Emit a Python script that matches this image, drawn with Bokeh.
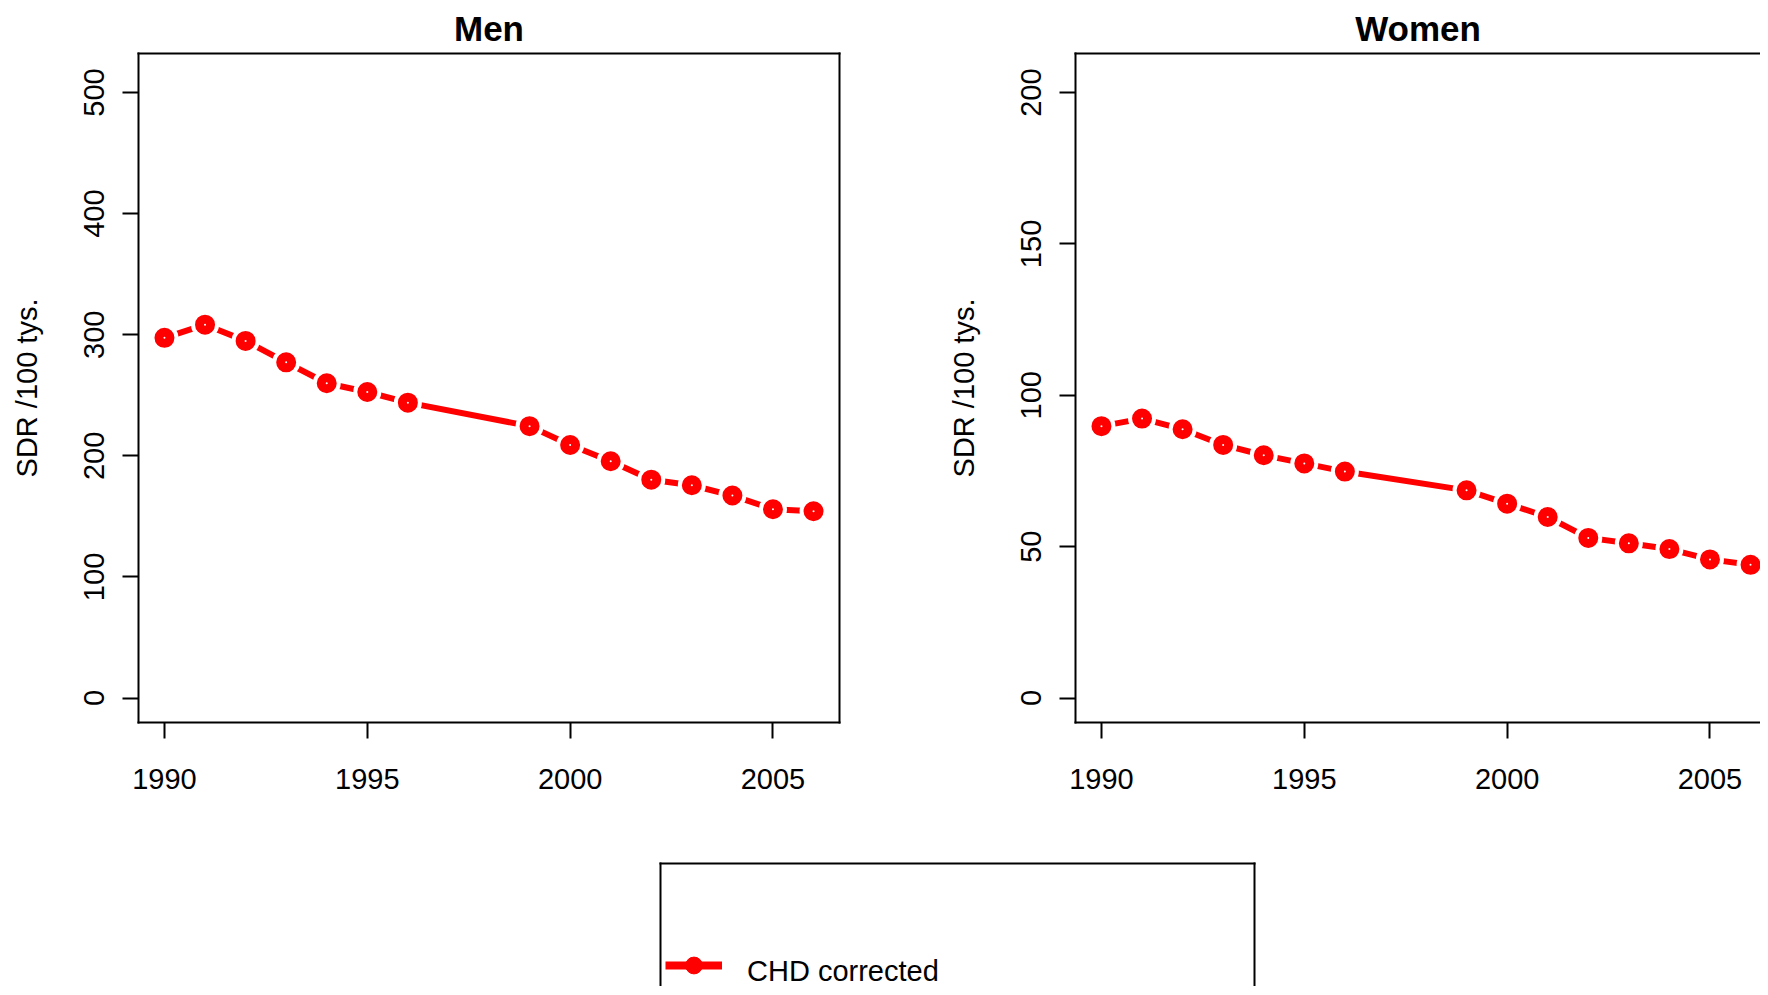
import numpy as np
from bokeh.plotting import figure
from bokeh.models import LinearAxis, FixedTicker, Range1d, Legend, LegendItem, ColumnDataSource
from bokeh.layouts import column, row
from bokeh.embed import file_html
from bokeh.resources import INLINE

# ---------------- data ----------------
years = [1990, 1991, 1992, 1993, 1994, 1995, 1996, 1999, 2000, 2001, 2002, 2003, 2004, 2005, 2006]
men = [297.4, 308.3, 294.9, 277.2, 259.9, 252.7, 243.9, 224.5, 208.9, 195.5, 180.3, 175.7, 167.2, 155.9, 154.2]
women = [89.8, 92.3, 88.8, 83.6, 80.2, 77.5, 74.8, 68.6, 64.2, 59.8, 52.9, 51.1, 49.2, 45.8, 44.0]
x_ticks = [1990, 1995, 2000, 2005]
men_ticks = [0, 100, 200, 300, 400, 500]
women_ticks = [0, 50, 100, 150, 200]
series_label = "CHD corrected"
y_title = "SDR /100 tys."
panel_titles = ["Men", "Women"]

FONT = "Liberation Sans"
RED = "#ff0000"


def line_axis():
    return LinearAxis(ticker=FixedTicker(ticks=[]), major_tick_line_color=None,
                      minor_tick_line_color=None, major_label_text_font_size="0px",
                      major_label_standoff=0, major_tick_out=0, major_tick_in=0,
                      axis_line_width=2, axis_line_cap="square", axis_line_color="black")


def panel(title, vals, yticks, y_range, x_end, width, mbl, mbr, right_line):
    p = figure(width=width, height=800, x_range=Range1d(1989.36, x_end),
               y_range=Range1d(*y_range), output_backend="svg", toolbar_location=None,
               min_border_left=mbl, min_border_right=mbr, min_border_top=53,
               min_border_bottom=78, x_axis_location=None, y_axis_location=None)
    p.outline_line_color = None
    p.grid.visible = False
    p.background_fill_color = "white"
    p.border_fill_color = "white"

    xa = LinearAxis(ticker=FixedTicker(ticks=x_ticks))
    ya = LinearAxis(ticker=FixedTicker(ticks=yticks))
    for ax in (xa, ya):
        ax.major_tick_out = 16
        ax.major_tick_in = 0
        ax.major_tick_line_width = 2
        ax.major_tick_line_color = "black"
        ax.minor_tick_line_color = None
        ax.axis_line_width = 2
        ax.axis_line_cap = "square"
        ax.axis_line_color = "black"
        ax.major_label_text_font = FONT
        ax.major_label_text_font_size = "29px"
        ax.major_label_text_color = "black"
    xa.major_label_standoff = 30
    ya.major_label_standoff = 18
    ya.major_label_orientation = "vertical"
    ya.axis_label = y_title
    ya.axis_label_text_font = FONT
    ya.axis_label_text_font_size = "29px"
    ya.axis_label_text_font_style = "normal"
    ya.axis_label_text_color = "black"
    ya.axis_label_standoff = 39
    p.add_layout(xa, "below")
    p.add_layout(ya, "left")
    p.add_layout(line_axis(), "above")
    if right_line:
        p.add_layout(line_axis(), "right")

    p.title.text = title
    p.title.align = "center"
    p.title.text_font = FONT
    p.title.text_font_size = "35px"
    p.title.text_font_style = "bold"
    p.title.text_color = "black"
    p.title.standoff = 12

    src = ColumnDataSource(dict(year=years, val=vals))
    p.line("year", "val", source=src, line_color=RED, line_width=6)
    p.scatter("year", "val", source=src, size=28, fill_color="white", line_color=None)
    p.scatter("year", "val", source=src, size=11, fill_color="white",
              line_color=RED, line_width=9)
    return p


px_per_year = 701 / 17.28
p_men = panel(panel_titles[0], men, men_ticks, (-20.2, 532.2), 2006.64, 943, 138, 104, True)
p_women = panel(panel_titles[1], women, women_ticks, (-8.08, 212.9),
                1989.36 + 685 / px_per_year, 817, 132, 0, False)

# legend panel
lf = figure(width=1264, height=186, x_range=Range1d(0, 1), y_range=Range1d(0, 1),
            min_border_left=660, min_border_right=10, min_border_top=63, min_border_bottom=0,
            x_axis_location=None, y_axis_location=None, output_backend="svg",
            toolbar_location=None)
lf.outline_line_color = None
lf.grid.visible = False
lf.add_layout(line_axis(), "left")
lf.add_layout(line_axis(), "right")
lf.add_layout(line_axis(), "above")
nan2 = np.array([np.nan, np.nan])
lr = lf.line(x=nan2, y=nan2, line_color=RED, line_width=8)
mr = lf.scatter(x=nan2, y=nan2, fill_color=RED, line_color=RED, size=10)
ghost = lf.line(x=nan2, y=nan2, line_alpha=0)
common = dict(border_line_color=None, background_fill_alpha=0, padding=0, margin=0,
              glyph_width=57, glyph_height=42, label_height=42, label_standoff=25,
              label_text_font=FONT, label_text_font_size="29px", label_text_color="black")
leg_glyph = Legend(items=[LegendItem(label=" ", renderers=[lr, mr])], location=(5, 0), **common)
leg_text = Legend(items=[LegendItem(label=series_label, renderers=[ghost])], location=(5, -6),
                  **common)
lf.add_layout(leg_glyph)
lf.add_layout(leg_text)

layout = column(row(p_men, p_women), lf)
open("out.html", "w").write(file_html(layout, INLINE))
